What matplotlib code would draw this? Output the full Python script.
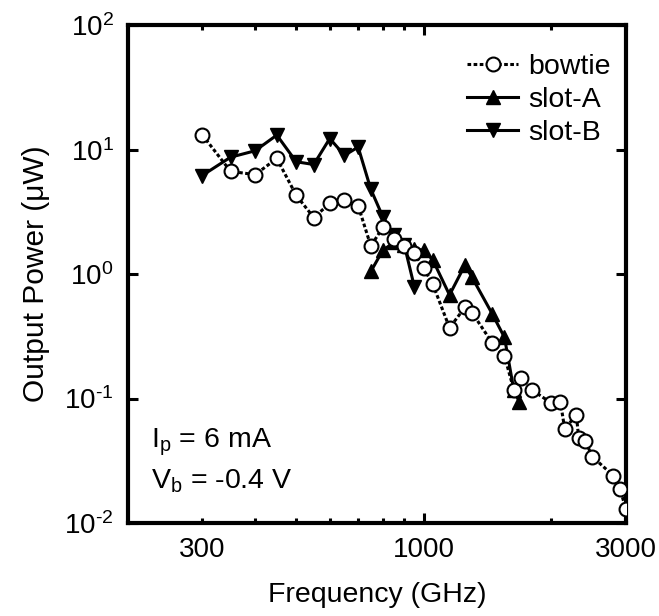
import matplotlib
matplotlib.use("Agg")
import matplotlib.pyplot as plt

plt.rcParams["font.family"] = ["Liberation Sans", "DejaVu Sans"]
plt.rcParams["mathtext.fontset"] = "custom"
plt.rcParams["mathtext.rm"] = "Liberation Sans"
plt.rcParams["mathtext.it"] = "Liberation Sans:italic"
plt.rcParams["axes.unicode_minus"] = False

# bowtie antenna
bowtie_f = [300, 350, 400, 450, 500, 550, 600, 650, 700, 750, 800, 850, 900, 950,
            1000, 1050, 1150, 1250, 1300, 1450, 1550, 1630, 1700, 1800, 2000, 2100,
            2150, 2290, 2320, 2400, 2500, 2800, 2900, 3000]
bowtie_p = [13.2, 6.7, 6.3, 8.5, 4.3, 2.85, 3.7, 3.95, 3.55, 1.68, 2.37, 1.9, 1.68, 1.47,
            1.11, 0.83, 0.37, 0.54, 0.49, 0.28, 0.22, 0.118, 0.147, 0.117, 0.092, 0.094,
            0.057, 0.074, 0.048, 0.046, 0.034, 0.024, 0.0187, 0.013]

# slot-A antenna
slotA_f = [750, 800, 850, 900, 950, 1000, 1050, 1150, 1250, 1300, 1450, 1550, 1630, 1680]
slotA_p = [1.05, 1.55, 1.8, 1.7, 1.6, 1.55, 1.3, 0.68, 1.18, 0.94, 0.48, 0.31, 0.118, 0.094]

# slot-B antenna
slotB_f = [300, 350, 400, 450, 500, 550, 600, 650, 700, 750, 800, 850, 900, 950]
slotB_p = [6.2, 8.7, 9.8, 13.1, 8.0, 7.6, 12.3, 9.0, 10.5, 4.8, 2.9, 2.05, 1.7, 0.79]

minor_x = [300, 400, 500, 600, 700, 800, 900, 2000, 3000]
minor_lbl = ["300", "", "", "", "", "", "", "", "3000"]
y_ticks = [0.01, 0.1, 1, 10, 100]
y_lbl = ["10$^{\u2010 2}$", "10$^{\u2010 1}$", "10$^{0}$", "10$^{1}$", "10$^{2}$"]

fs = 20.5

fig = plt.figure(figsize=(6.59, 6.16), dpi=100)
ax = fig.add_axes([0.1935, 0.151, 0.7565, 0.808])

ax.plot(slotB_f, slotB_p, color="k", lw=2.2, marker="v", ms=10, label="slot-B", zorder=2)
ax.plot(slotA_f, slotA_p, color="k", lw=2.2, marker="^", ms=10, label="slot-A", zorder=2)
ax.plot(bowtie_f, bowtie_p, color="k", lw=2.2, ls=(0, (1.2, 0.8)), marker="o", ms=10,
        mfc="white", mec="k", mew=1.5, label="bowtie", zorder=3)

ax.set_xscale("log")
ax.set_yscale("log")
ax.set_xlim(200, 3000)
ax.set_ylim(0.01, 100)

ax.set_xticks([1000])
ax.set_xticklabels(["1000"])
ax.set_xticks(minor_x, minor=True)
ax.set_xticklabels(minor_lbl, minor=True)
ax.set_yticks(y_ticks)
ax.set_yticklabels(y_lbl)
ax.yaxis.set_minor_locator(matplotlib.ticker.NullLocator())

ax.tick_params(which="both", direction="in", top=True, right=True, labelsize=20, pad=10)
ax.tick_params(which="major", length=7, width=2.2)
ax.tick_params(which="minor", length=3.5, width=2.2)
for s in ax.spines.values():
    s.set_linewidth(3)

ax.set_xlabel("Frequency (GHz)", fontsize=fs, labelpad=14)
ax.set_ylabel("Output Power (μW)", fontsize=21.5, labelpad=10)

ax.text(0.047, 0.151, "I$_\\mathrm{p}$ = 6 mA", transform=ax.transAxes, fontsize=fs)
ax.text(0.047, 0.070, "V$_\\mathrm{b}$ = -0.4 V", transform=ax.transAxes, fontsize=fs)

h, l = ax.get_legend_handles_labels()
ax.legend(h[::-1], l[::-1], loc="upper right", bbox_to_anchor=(0.992, 0.966),
          frameon=False, fontsize=fs, handlelength=1.8, handletextpad=0.35,
          labelspacing=0.25, numpoints=1, borderaxespad=0)

fig.savefig("out.png", dpi=100)
